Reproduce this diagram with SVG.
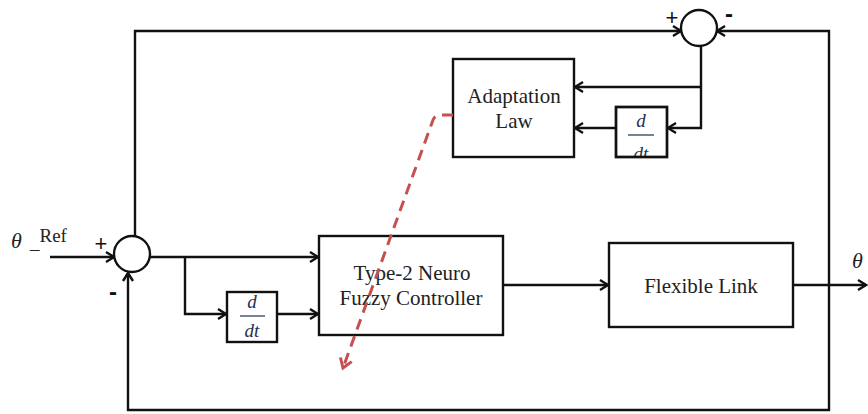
<svg xmlns="http://www.w3.org/2000/svg" width="868" height="414" viewBox="0 0 868 414">
<style>
.ln{fill:none;stroke:#111;stroke-width:2.4}
.bx{fill:#fff;stroke:#111;stroke-width:2.4}
.t{font-family:"Liberation Serif","Times New Roman",serif;font-size:21px;fill:#222;text-anchor:middle}
.m{font-family:"Liberation Serif","Times New Roman",serif;font-style:italic;font-size:19px;fill:#1f3050;text-anchor:middle}
.s{font-family:"Liberation Sans",Arial,sans-serif;font-size:22px;fill:#111;text-anchor:middle}
.mn{font-family:"Liberation Sans",Arial,sans-serif;font-size:24px;font-weight:bold;fill:#111;text-anchor:middle}
.dash{fill:none;stroke:#c5504f;stroke-width:3;stroke-dasharray:11 7}
</style>
<defs>
<marker id="ar" markerUnits="userSpaceOnUse" markerWidth="14" markerHeight="14" refX="11" refY="7" orient="auto">
<path d="M3,2 L11,7 L3,12" fill="none" stroke="#111" stroke-width="2.4"/>
</marker>
<marker id="ar2" markerUnits="userSpaceOnUse" markerWidth="16" markerHeight="16" refX="12" refY="8" orient="auto">
<path d="M3,2 L12,8 L3,14" fill="none" stroke="#c5504f" stroke-width="3"/>
</marker>
<clipPath id="c1"><rect x="616" y="107" width="51" height="50"/></clipPath>
</defs>
<g id="connectors">
<path class="ln" d="M50,257 H114" marker-end="url(#ar)"/>
<path class="ln" d="M135,237 V31 H681" marker-end="url(#ar)"/>
<path class="ln" d="M829,284 V410 H128 V273" marker-end="url(#ar)"/>
<path class="ln" d="M829,284 V31 H717" marker-end="url(#ar)"/>
<path class="ln" d="M150,257 H318" marker-end="url(#ar)"/>
<path class="ln" d="M185,257 V314 H226" marker-end="url(#ar)"/>
<path class="ln" d="M277,314 H318" marker-end="url(#ar)"/>
<path class="ln" d="M503,285 H608" marker-end="url(#ar)"/>
<path class="ln" d="M793,285 H866" marker-end="url(#ar)"/>
<path class="ln" d="M701,46 V128 H668" marker-end="url(#ar)"/>
<path class="ln" d="M701,87 H575" marker-end="url(#ar)"/>
<path class="ln" d="M616,128 H575" marker-end="url(#ar)"/>
</g>
<g id="sum1">
<circle cx="132" cy="254" r="18" fill="#fff" stroke="#111" stroke-width="2.4"/>
<text class="s" x="101" y="251">+</text>
<text class="mn" x="113" y="300">-</text>
</g>
<g id="sum2">
<circle cx="699" cy="28" r="18" fill="#fff" stroke="#111" stroke-width="2.4"/>
<text class="s" x="672" y="25">+</text>
<text class="mn" x="729" y="22">-</text>
</g>
<g id="ref">
<text x="11" y="248" style="font-family:'Liberation Serif',serif;font-style:italic;font-size:22px;fill:#222">θ</text>
<text x="30" y="249" style="font-family:'Liberation Serif',serif;font-size:19px;fill:#222">_<tspan dy="-7">Ref</tspan></text>
</g>
<g id="out">
<text x="852" y="268" style="font-family:'Liberation Serif',serif;font-style:italic;font-size:22px;fill:#222">θ</text>
</g>
<g id="deriv1">
<rect class="bx" x="227" y="292" width="50" height="50"/>
<text class="m" x="252" y="308">d</text>
<line x1="240" y1="316" x2="265" y2="316" stroke="#1f3050" stroke-width="1.2"/>
<text class="m" x="252" y="337">dt</text>
</g>
<g id="deriv2">
<rect class="bx" x="616" y="107" width="51" height="50"/>
<g clip-path="url(#c1)">
<text class="m" x="641" y="127">d</text>
<text class="m" x="641" y="160">dt</text>
</g>
<line x1="628" y1="135" x2="654" y2="135" stroke="#1f3050" stroke-width="1.2"/>
<rect x="616" y="107" width="51" height="50" fill="none" stroke="#111" stroke-width="2.4"/>
</g>
<g id="controller">
<rect class="bx" x="319" y="236" width="184" height="99"/>
<text class="t" x="412" y="280">Type-2 Neuro</text>
<text class="t" x="411" y="305">Fuzzy Controller</text>
</g>
<g id="plant">
<rect class="bx" x="609" y="243" width="184" height="84"/>
<text class="t" x="701" y="293">Flexible Link</text>
</g>
<g id="adapt">
<rect class="bx" x="453" y="59" width="121" height="98"/>
<text class="t" x="514" y="103">Adaptation</text>
<text class="t" x="514" y="128">Law</text>
</g>
<g id="adapt-link">
<path class="dash" d="M453,115 H440 Q435,115 433,120 L343,368" marker-end="url(#ar2)"/>
</g>
</svg>
